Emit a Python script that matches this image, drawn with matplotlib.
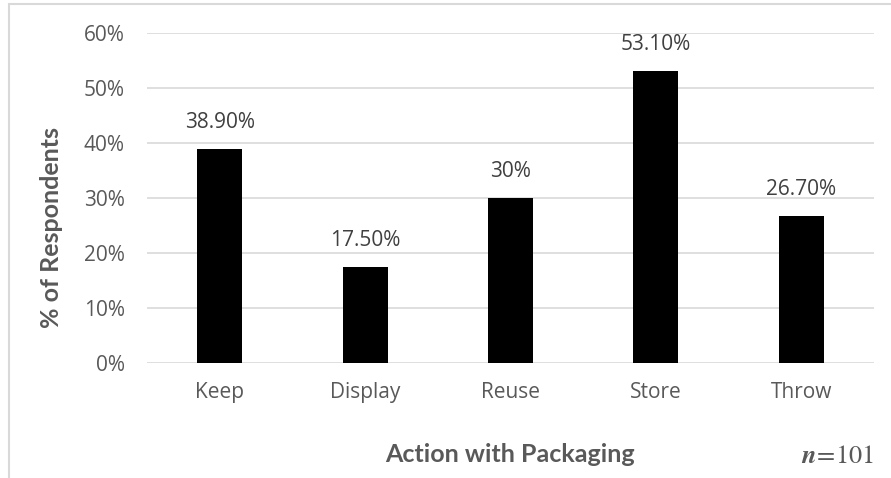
import matplotlib
matplotlib.use("Agg")
import matplotlib.pyplot as plt
from matplotlib.patches import Rectangle
from matplotlib.ticker import FuncFormatter

plt.rcParams["mathtext.fontset"] = "stix"

categories = ["Keep", "Display", "Reuse", "Store", "Throw"]
values = [38.9, 17.5, 30.0, 53.1, 26.7]
value_labels = ["38.90%", "17.50%", "30%", "53.10%", "26.70%"]
y_ticks = [0, 10, 20, 30, 40, 50, 60]

W, H = 891, 478
fig = plt.figure(figsize=(W / 100, H / 100), dpi=100)
fig.patch.set_facecolor("white")

# chart frame (cropped Excel chart area)
fig.add_artist(Rectangle((9 / W, -0.1), 1.2, 1.1 - 4 / H, transform=fig.transFigure,
                         fill=False, edgecolor="#d9d9d9", linewidth=1.5))

ax = fig.add_axes([147 / W, 115 / H, (874 - 147) / W, (363 - 33) / H])
x = range(len(categories))
ax.bar(x, values, width=0.31, color="black", zorder=3)
ax.set_xlim(-0.5, len(categories) - 0.5)
ax.set_ylim(0, 60)
ax.set_yticks(y_ticks)
ax.yaxis.set_major_formatter(FuncFormatter(lambda v, p: f"{v:.0f}%"))
ax.grid(axis="y", color="#d9d9d9", linewidth=1.2, zorder=0)
for s in ax.spines.values():
    s.set_visible(False)
ax.tick_params(length=0, colors="#595959", labelsize=15)
ax.tick_params(axis="y", pad=16)
ax.tick_params(axis="x", pad=14)
ax.set_xticks(list(x))
ax.set_xticklabels(categories)
for lab in ax.get_xticklabels() + ax.get_yticklabels():
    lab.set_fontfamily("Open Sans")

for xi, v, t in zip(x, values, value_labels):
    ax.annotate(t, (xi, v), xytext=(0, 19), textcoords="offset points", ha="center", va="center",
                fontsize=15, color="#404040", family="Open Sans")

fig.text(52 / W, 1 - 228 / H, "% of Respondents", rotation=90, ha="center", va="center",
         fontsize=18, fontweight="bold", color="#595959", family="Lato")
fig.text(510 / W, 1 - 455 / H, "Action with Packaging", ha="center", va="center",
         fontsize=18, fontweight="bold", color="#595959", family="Lato")
fig.text(837 / W, 1 - 456 / H, r"$\boldsymbol{n}\!=\!\mathrm{101}$", ha="center", va="center",
         fontsize=19, color="#595959")

fig.savefig("out.png", dpi=100)
